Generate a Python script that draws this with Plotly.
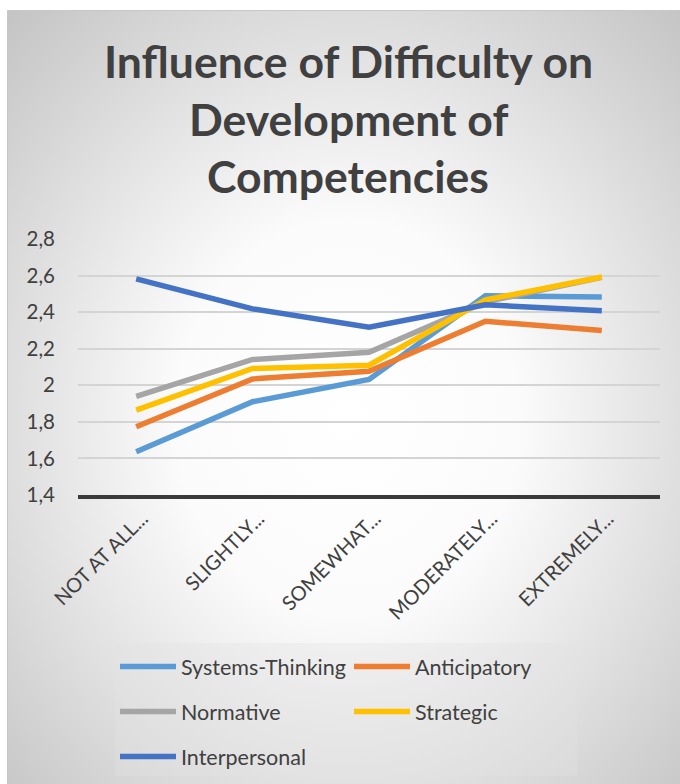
import base64
import plotly.graph_objects as go

categories = ["NOT AT ALL...", "SLIGHTLY...", "SOMEWHAT...", "MODERATELY...", "EXTREMELY..."]
systems_thinking = [1.637, 1.91, 2.032, 2.49, 2.483]
anticipatory = [1.773, 2.035, 2.077, 2.35, 2.30]
normative = [1.94, 2.141, 2.181, 2.456, 2.59]
strategic = [1.864, 2.092, 2.11, 2.467, 2.592]
interpersonal = [2.582, 2.418, 2.317, 2.44, 2.408]

series_names = ["Systems-Thinking", "Anticipatory", "Normative", "Strategic", "Interpersonal"]
series_values = [systems_thinking, anticipatory, normative, strategic, interpersonal]
series_colors = ["#5B9BD5", "#ED7D31", "#A5A5A5", "#FFC000", "#4472C4"]
series_legend = ["legend", "legend2", "legend", "legend2", "legend"]

title_lines = ["Influence of Difficulty on", "Development of", "Competencies"]

W, H = 680, 784
L, R, T, B = 78, 20, 239, 289
PW, PH = W - L - R, H - T - B


def px_x(px):
    return (px - L) / PW


def px_y(py):
    return (H - B - py) / PH


svg = f'''<svg xmlns="http://www.w3.org/2000/svg" width="{W}" height="{H}" viewBox="0 0 {W} {H}">
<defs><radialGradient id="g" cx="50%" cy="52%" r="72%">
<stop offset="0" stop-color="#ffffff"/><stop offset="0.35" stop-color="#fbfbfb"/><stop offset="1" stop-color="#c4c4c4"/>
</radialGradient></defs>
<rect x="7.5" y="10.5" width="{W}" height="{H}" fill="url(#g)" stroke="#c8c8c8" stroke-width="1"/>
</svg>'''
svg_uri = "data:image/svg+xml;base64," + base64.b64encode(svg.encode()).decode()

fig = go.Figure()
for i, (name, vals, col, lg) in enumerate(zip(series_names, series_values, series_colors, series_legend)):
    fig.add_trace(go.Scatter(
        x=categories, y=vals, name=name, mode="lines",
        line=dict(color=col, width=5.5),
        legendgroup=f"g{i}", legend=lg,
    ))

annotations = []
for text, cy in zip(title_lines, [60, 118, 175]):
    annotations.append(dict(
        text=f"<b>{text}</b>", xref="paper", yref="paper",
        x=px_x(348), y=px_y(cy), xanchor="center", yanchor="middle",
        showarrow=False, font=dict(family="Lato", size=44.5, color="#404040"),
    ))

legend_common = dict(
    orientation="v", yanchor="top", xanchor="left",
    font=dict(family="Lato", size=21.5, color="#404040"),
    bgcolor="rgba(0,0,0,0)", itemwidth=56, tracegroupgap=14,
    traceorder="grouped",
)

fig.update_layout(
    width=W, height=H,
    margin=dict(l=L, r=R, t=T, b=B, autoexpand=False),
    paper_bgcolor="white", plot_bgcolor="rgba(0,0,0,0)",
    separators=", ",
    font=dict(family="Lato", color="#404040"),
    showlegend=True,
    legend=dict(x=px_x(115), y=px_y(646), **legend_common),
    legend2=dict(x=px_x(349), y=px_y(646), **legend_common),
    annotations=annotations,
    shapes=[dict(
        type="rect", xref="paper", yref="paper",
        x0=px_x(115), x1=px_x(577), y0=px_y(643), y1=px_y(776),
        fillcolor="rgba(225,225,225,0.35)", line=dict(width=0), layer="below",
    )],
    images=[dict(
        source=svg_uri, xref="paper", yref="paper",
        x=px_x(0), y=px_y(0), sizex=W / PW, sizey=H / PH,
        xanchor="left", yanchor="top", sizing="stretch", layer="below",
    )],
    xaxis=dict(
        type="category", range=[-0.5, 4.5], tickangle=-45,
        tickfont=dict(family="Lato", size=20, color="#404040"),
        showgrid=False, zeroline=False,
        showline=True, linecolor="#3a3a3a", linewidth=4,
        ticks="", ticklabelstandoff=0, ticklabelshift=6,
    ),
    yaxis=dict(
        range=[1.4, 2.8], dtick=0.2, tick0=1.4,
        tickfont=dict(family="Lato", size=20.5, color="#404040"),
        showgrid=True, gridcolor="#d4d4d4", gridwidth=1.5,
        zeroline=False, showline=False, ticks="", ticklabelstandoff=22,
    ),
)

fig.write_html("out.html")
